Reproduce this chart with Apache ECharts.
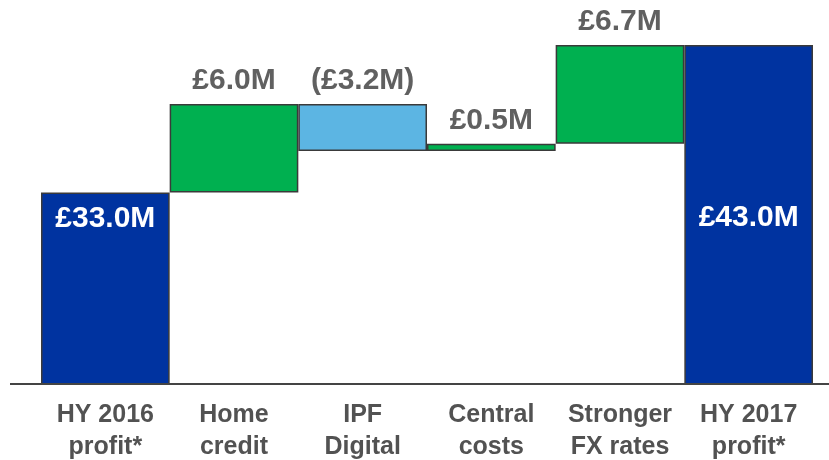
<!DOCTYPE html>
<html>
<head>
<meta charset="utf-8">
<script src="https://cdn.jsdelivr.net/npm/echarts@6/dist/echarts.min.js"></script>
<style>
    html, body { margin: 0; padding: 0; background: #fff; }
    #main { width: 829px; height: 460px; }
</style>
</head>
<body>
<div id="main"></div>
<script>
var categories = ['HY 2016\nprofit*', 'Home\ncredit', 'IPF\nDigital', 'Central\ncosts', 'Stronger\nFX rates', 'HY 2017\nprofit*'];
var changes = [33.0, 6.0, -3.2, 0.5, 6.7, 43.0];
var isTotal = [true, false, false, false, false, true];
var valueLabels = ['£33.0M', '£6.0M', '(£3.2M)', '£0.5M', '£6.7M', '£43.0M'];
var barColors = ['#0033a0', '#00b050', '#5cb5e3', '#00b050', '#00b050', '#0033a0'];

// waterfall: invisible base + visible step
var base = [];
var step = [];
var running = 0;
for (var i = 0; i < changes.length; i++) {
    if (isTotal[i]) {
        base.push(0);
        step.push(changes[i]);
        running = changes[i];
    } else {
        var next = running + changes[i];
        base.push(Math.min(running, next));
        step.push(Math.abs(changes[i]));
        running = next;
    }
}

var stepData = step.map(function (v, i) {
    var item = {
        value: v,
        itemStyle: { color: barColors[i] },
        label: { formatter: valueLabels[i] }
    };
    if (isTotal[i]) {
        item.label = {
            formatter: valueLabels[i],
            position: ['50%', 0],
            color: '#fff',
            align: 'center',
            verticalAlign: 'middle'
        };
    }
    return item;
});

var myChart = echarts.init(document.getElementById('main'));

var option = {
    backgroundColor: '#fff',
    animation: false,
    grid: { left: 41, right: 16, top: 45, bottom: 76, outerBoundsMode: 'none' },
    xAxis: {
        type: 'category',
        data: categories,
        axisLine: { show: false },
        axisTick: { show: false },
        axisLabel: {
            interval: 0,
            margin: 15,
            fontFamily: 'Liberation Sans, Arial, sans-serif',
            fontWeight: 'bold',
            fontSize: 25,
            lineHeight: 32,
            color: '#525252'
        }
    },
    yAxis: {
        type: 'value',
        min: 20,
        max: 43,
        show: false,
        splitLine: { show: false }
    },
    series: [
        {
            type: 'bar',
            stack: 'wf',
            barCategoryGap: 0,
            itemStyle: { color: 'transparent', borderWidth: 0 },
            emphasis: { disabled: true },
            data: base
        },
        {
            type: 'bar',
            stack: 'wf',
            barCategoryGap: 0,
            itemStyle: { borderColor: '#3a3a3a', borderWidth: 1.5 },
            label: {
                show: true,
                position: 'top',
                distance: 8,
                fontFamily: 'Liberation Sans, Arial, sans-serif',
                fontWeight: 'bold',
                fontSize: 30,
                color: '#606060'
            },
            data: stepData
        }
    ],
    graphic: [
        {
            type: 'line',
            shape: { x1: 10, y1: 384, x2: 829, y2: 384 },
            style: { stroke: '#444444', lineWidth: 2 },
            z: 10
        }
    ]
};

// totals: inside label sits at the same height on both bars
var labelY = 218;
option.series[1].data[0].label.position = ['50%', labelY - 192];
option.series[1].data[5].label.position = ['50%', labelY - 45];

myChart.setOption(option);
</script>
</body>
</html>
